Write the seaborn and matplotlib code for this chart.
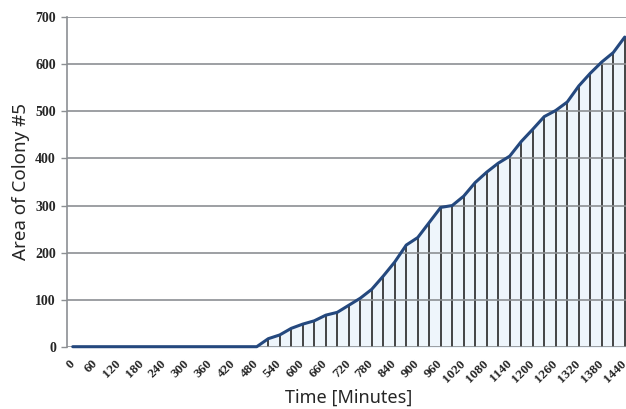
import numpy as np
import pandas as pd
import matplotlib
matplotlib.use("Agg")
import matplotlib.pyplot as plt
import seaborn as sns

# sampling every 30 minutes, 0 .. 1440
minutes = list(range(0, 1441, 30))
area = [0, 0, 0, 0, 0, 0, 0, 0, 0, 0, 0, 0, 0, 0, 0, 0, 0,
        17, 25, 39, 48, 55, 67, 73, 88, 103, 122, 150, 180, 216, 232,
        264, 296, 300, 320, 349, 371, 390, 405, 436, 462, 489, 502,
        520, 554, 581, 605, 625, 658]
tick_minutes = list(range(0, 1441, 60))
y_ticks = [0, 100, 200, 300, 400, 500, 600, 700]

line_color = '#24487e'
fill_color = '#eef5fb'
grid_color = '#8c8f93'

df = pd.DataFrame({'minutes': minutes, 'area': area})

sns.set_style('white')
fig = plt.figure(figsize=(6.26, 4.09), dpi=100)
ax = fig.add_axes([67 / 626, 1 - 346.7 / 409, 563.5 / 626, 329.4 / 409])

# light fill under the curve plus drop lines at every sample
ax.fill_between(df['minutes'], 0, df['area'], color=fill_color, zorder=1)
ax.vlines(df['minutes'], 0, df['area'], color='#262626', linewidth=1.2, zorder=2)
sns.lineplot(data=df, x='minutes', y='area', color=line_color, linewidth=2.2,
             ax=ax, zorder=4, clip_on=False)

ax.set_xlim(-15, 1455)
ax.set_ylim(0, 700)
ax.set_yticks(y_ticks)
ax.set_xticks(tick_minutes)
ax.set_xticklabels([str(m) for m in tick_minutes], rotation=45, ha='right',
                   va='center', rotation_mode='anchor',
                   fontfamily='Liberation Serif', fontweight='bold', fontsize=9.5)
ax.set_yticklabels([str(v) for v in y_ticks], fontfamily='Liberation Serif',
                   fontweight='bold', fontsize=10)
ax.tick_params(axis='x', length=0, pad=11)
ax.tick_params(axis='y', length=4, width=1, color=grid_color, pad=4, left=True)

ax.grid(axis='y', color=grid_color, linewidth=1.2, zorder=0)
ax.set_axisbelow(False)
for name in ['top', 'right', 'bottom']:
    ax.spines[name].set_visible(False)
ax.spines['left'].set_color(grid_color)
ax.spines['left'].set_linewidth(1.2)

ax.set_xlabel('Time [Minutes]', fontfamily='Noto Sans', fontsize=13, labelpad=3)
ax.set_ylabel('Area of Colony #5', fontfamily='Noto Sans', fontsize=13.5, labelpad=4)

fig.savefig('out.png', dpi=100, facecolor='white')
